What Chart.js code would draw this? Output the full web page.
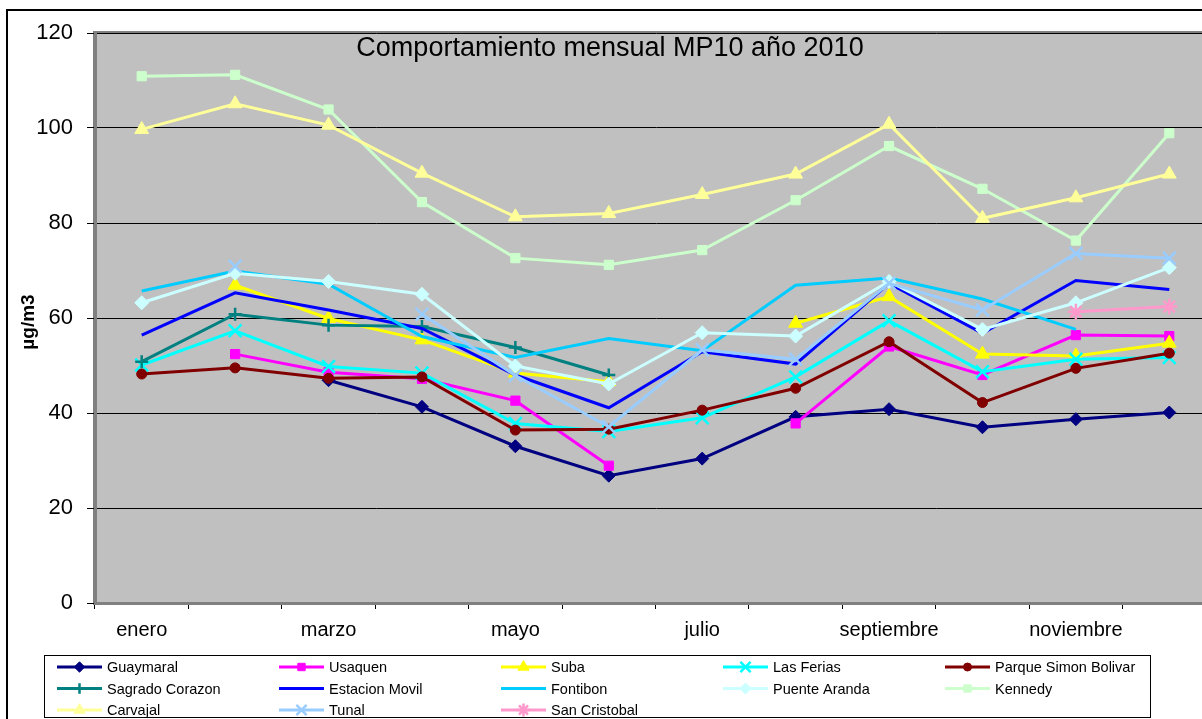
<!DOCTYPE html>
<html>
<head>
<meta charset="utf-8">
<script src="https://cdn.jsdelivr.net/npm/chart.js@4.4.0/dist/chart.umd.min.js"></script>
<style>
  html, body { margin: 0; padding: 0; background: #fff; overflow: hidden; }
  #wrap { width: 1240px; height: 719px; }
</style>
</head>
<body>
<div id="wrap"><canvas id="myChart" width="1240" height="719"></canvas></div>
<script>
const months = ["enero", "febrero", "marzo", "abril", "mayo", "junio", "julio", "agosto", "septiembre", "octubre", "noviembre", "diciembre"];
const yMin = 0;
const yMax = 120;
const yStep = 20;

const guaymaral = [null, null, 46.9, 41.3, 33.0, 26.8, 30.4, 39.2, 40.8, 37.0, 38.7, 40.1];
const usaquen = [null, 52.4, 48.6, 47.2, 42.6, 28.9, null, 37.8, 54.0, 48.0, 56.4, 56.2];
const suba = [null, 66.9, 59.9, 55.4, 48.4, 46.6, null, 58.9, 64.5, 52.4, 52.0, 54.7];
const lasFerias = [50.1, 57.3, 49.8, 48.4, 37.8, 36.1, 39.0, 47.6, 59.4, 48.7, 51.3, 51.7];
const parqueSimonBolivar = [48.2, 49.5, 47.3, 47.6, 36.4, 36.6, 40.6, 45.2, 55.0, 42.2, 49.4, 52.6];
const sagradoCorazon = [50.8, 60.8, 58.5, 58.2, 53.8, 48.0, null, null, null, null, null, null];
const estacionMovil = [56.4, 65.3, 61.7, 57.8, 48.0, 41.1, 52.9, 50.3, 67.3, 56.8, 67.9, 66.0];
const fontibon = [65.7, 69.9, 67.1, 56.1, 51.7, 55.7, 53.1, 66.9, 68.4, 64.0, 57.6, null];
const puenteAranda = [63.2, 69.4, 67.7, 65.0, 49.9, 46.1, 56.9, 56.2, 67.7, 57.6, 63.2, 70.6];
const kennedy = [110.9, 111.2, 103.9, 84.4, 72.6, 71.2, 74.3, 84.8, 96.2, 87.2, 76.3, 98.9];
const carvajal = [99.7, 105.1, 100.6, 90.5, 81.3, 82.0, 86.0, 90.3, 100.8, 81.0, 85.3, 90.3];
const tunal = [null, 70.9, null, 60.8, 47.9, 37.1, 53.3, 51.3, 67.3, 61.7, 73.6, 72.6];
const sanCristobal = [null, null, null, null, null, null, null, null, null, null, 61.3, 62.4];

const FONT = "'Liberation Sans', Arial, sans-serif";

// name, values, colour, marker, marker size
const series = [
  ["Guaymaral", guaymaral, "#000080", "rectRot", 6.5],
  ["Usaquen", usaquen, "#FF00FF", "rect", 6.5],
  ["Suba", suba, "#FFFF00", "triangle", 8],
  ["Las Ferias", lasFerias, "#00FFFF", "crossRot", 9],
  ["Parque Simon Bolivar", parqueSimonBolivar, "#800000", "circle", 5],
  ["Sagrado Corazon", sagradoCorazon, "#008080", "cross", 6.5],
  ["Estacion Movil", estacionMovil, "#0000FF", false, 0],
  ["Fontibon", fontibon, "#00CCFF", false, 0],
  ["Puente Aranda", puenteAranda, "#CCFFFF", "rectRot", 7],
  ["Kennedy", kennedy, "#CCFFCC", "rect", 6.5],
  ["Carvajal", carvajal, "#FFFF99", "triangle", 8],
  ["Tunal", tunal, "#99CCFF", "crossRot", 9],
  ["San Cristobal", sanCristobal, "#FF99CC", "star", 8],
];

const datasets = series.map(([label, data, color, style, size], i) => ({
  label: label,
  data: data,
  borderColor: color,
  backgroundColor: color,
  borderWidth: 3,
  pointStyle: style,
  pointRadius: size,
  pointBorderWidth: style === "cross" || style === "crossRot" || style === "star" ? 2.5 : 1,
  pointBackgroundColor: color,
  pointBorderColor: color,
  spanGaps: false,
  tension: 0,
  order: series.length - i,
}));

const frame = {
  id: "frame",
  beforeDraw(chart) {
    const { ctx, chartArea: a } = chart;
    ctx.save();
    ctx.fillStyle = "#fff";
    ctx.fillRect(0, 0, chart.width, chart.height);
    ctx.strokeStyle = "#000";
    ctx.lineWidth = 2;
    ctx.strokeRect(7, 10, chart.width + 20, chart.height + 20);
    ctx.fillStyle = "#C0C0C0";
    ctx.fillRect(a.left, a.top, a.right - a.left, a.bottom - a.top);
    ctx.strokeStyle = "#808080";
    ctx.lineWidth = 2;
    ctx.strokeRect(a.left - 1, a.top - 1, a.right - a.left + 2, a.bottom - a.top + 2);
    ctx.restore();
  },
  afterDraw(chart) {
    const { ctx } = chart;
    ctx.save();
    // title inside the plot area
    ctx.fillStyle = "#000";
    ctx.font = "27px " + FONT;
    ctx.textAlign = "center";
    ctx.textBaseline = "alphabetic";
    ctx.fillText("Comportamiento mensual MP10 año 2010", 610, 56);

    // y axis title
    ctx.save();
    ctx.translate(29, 322);
    ctx.rotate(-Math.PI / 2);
    ctx.font = "bold 19px " + FONT;
    ctx.textBaseline = "middle";
    ctx.fillText("µg/m3", 0, 0);
    ctx.restore();

    // legend box
    ctx.strokeStyle = "#000";
    ctx.lineWidth = 1;
    ctx.strokeRect(44.5, 655.5, 1106, 62);
    ctx.font = "14.5px " + FONT;
    ctx.textAlign = "left";
    ctx.textBaseline = "middle";
    chart.data.datasets.forEach((ds, i) => {
      const x = 57 + (i % 5) * 222;
      const y = 667 + Math.floor(i / 5) * 21.5;
      ctx.strokeStyle = ds.borderColor;
      ctx.lineWidth = 3;
      ctx.beginPath();
      ctx.moveTo(x, y);
      ctx.lineTo(x + 45, y);
      ctx.stroke();
      if (ds.pointStyle) {
        ctx.fillStyle = ds.borderColor;
        ctx.lineWidth = ds.pointBorderWidth;
        Chart.helpers.drawPoint(ctx, {
          pointStyle: ds.pointStyle,
          radius: ds.pointRadius * 0.8,
          borderWidth: ds.pointBorderWidth,
          rotation: 0,
        }, x + 22.5, y);
      }
      ctx.fillStyle = "#000";
      ctx.fillText(ds.label, x + 50, y + 1);
    });
    ctx.restore();
  },
};

Chart.defaults.font.family = FONT;
Chart.defaults.color = "#000";

const myChart = new Chart(document.getElementById("myChart").getContext("2d"), {
  type: "line",
  data: { labels: months, datasets: datasets },
  options: {
    responsive: false,
    animation: false,
    devicePixelRatio: 1,
    layout: { padding: { left: 0, right: 24, top: 33, bottom: 0 } },
    plugins: {
      legend: { display: false },
      title: { display: false },
      tooltip: { enabled: false },
    },
    scales: {
      x: {
        type: "category",
        offset: true,
        grid: { drawOnChartArea: false, offset: true, tickLength: 6, color: "#000", lineWidth: 1 },
        border: { color: "#808080", width: 3 },
        ticks: {
          autoSkip: false,
          maxRotation: 0,
          padding: 9,
          font: { size: 20 },
          callback: (v, i) => (i % 2 === 0 ? months[i] : ""),
        },
        afterFit: (scale) => { scale.height = 116; },
      },
      y: {
        min: yMin,
        max: yMax,
        grid: { color: "#000", lineWidth: 1, tickLength: 8 },
        border: { color: "#808080", width: 3 },
        ticks: { stepSize: yStep, padding: 14, font: { size: 22 } },
        afterFit: (scale) => { scale.width = 95; },
      },
    },
  },
  plugins: [frame],
});
</script>
</body>
</html>
